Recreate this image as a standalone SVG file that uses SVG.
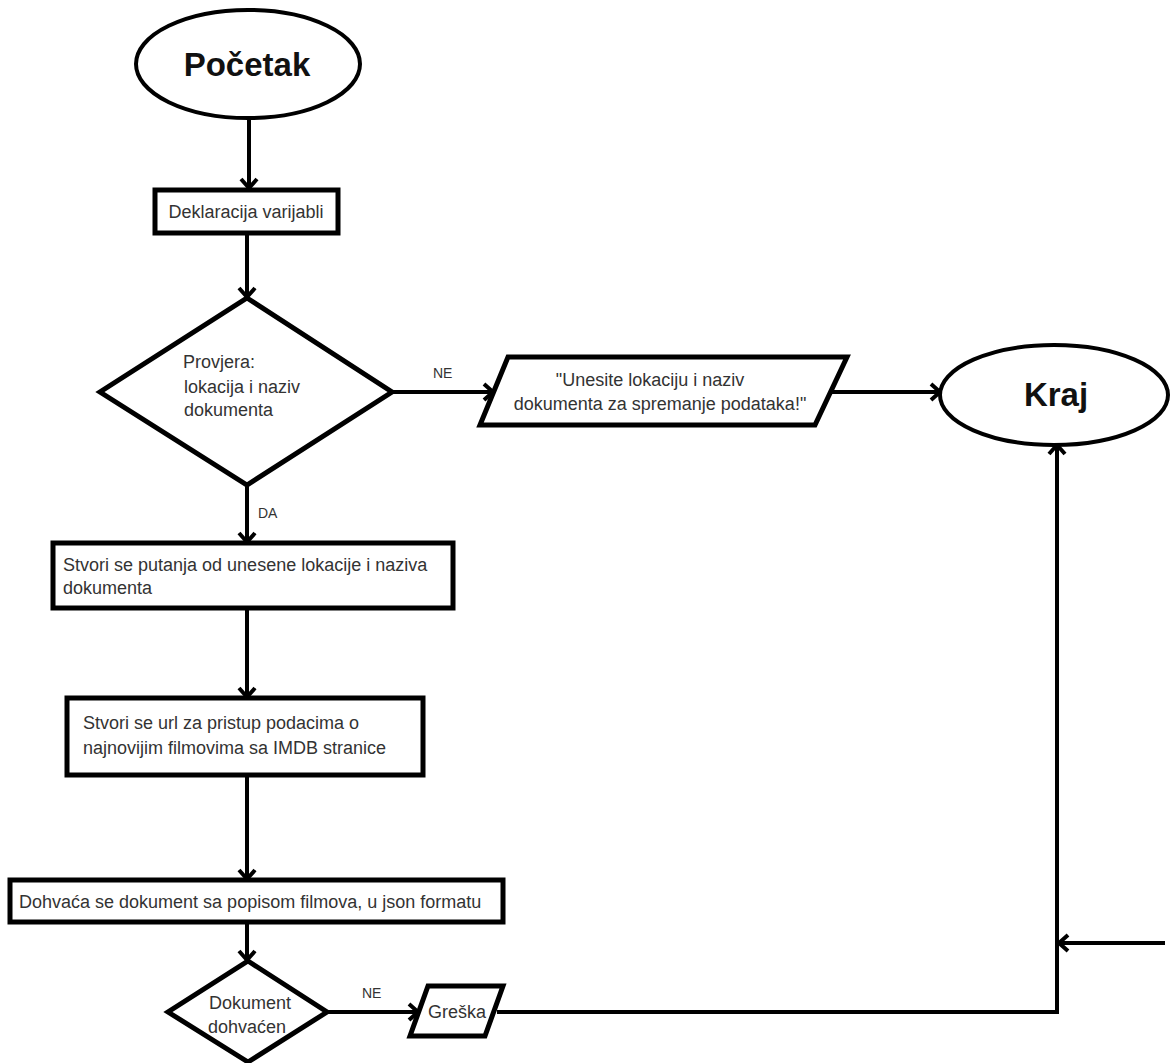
<svg xmlns="http://www.w3.org/2000/svg" width="1171" height="1063" viewBox="0 0 1171 1063">
<style>
.shape{fill:#fff;stroke:#000;stroke-width:5;stroke-linejoin:miter}
.term{fill:#fff;stroke:#000;stroke-width:4}
.conn{fill:none;stroke:#000;stroke-width:4;stroke-linejoin:miter}
.t{font-family:"Liberation Sans",Arial,sans-serif;font-size:18px;fill:#333}
.c{text-anchor:middle}
.title{font-family:"Liberation Sans",Arial,sans-serif;font-size:33px;font-weight:bold;fill:#111;text-anchor:middle}
.lbl{font-family:"Liberation Sans",Arial,sans-serif;font-size:14px;fill:#333}
</style>
<defs>
<marker id="arr" markerUnits="userSpaceOnUse" markerWidth="20" markerHeight="20" refX="0" refY="0" viewBox="-12 -10 14 20" orient="auto">
<path d="M-9,-8 L0,0 L-9,8" fill="none" stroke="#000" stroke-width="4"/>
</marker>
</defs>
<rect width="1171" height="1063" fill="#fff"/>
<g id="connectors">
<line class="conn" x1="249" y1="118" x2="249" y2="188" marker-end="url(#arr)"/>
<line class="conn" x1="247" y1="233" x2="247" y2="297" marker-end="url(#arr)"/>
<line class="conn" x1="392" y1="392" x2="493" y2="392" marker-end="url(#arr)"/>
<line class="conn" x1="832" y1="392" x2="940" y2="392" marker-end="url(#arr)"/>
<line class="conn" x1="247" y1="485" x2="247" y2="542" marker-end="url(#arr)"/>
<line class="conn" x1="247" y1="608" x2="247" y2="697" marker-end="url(#arr)"/>
<line class="conn" x1="247" y1="775" x2="247" y2="879" marker-end="url(#arr)"/>
<line class="conn" x1="247" y1="922" x2="247" y2="960" marker-end="url(#arr)"/>
<line class="conn" x1="327" y1="1012" x2="418" y2="1012" marker-end="url(#arr)"/>
<polyline class="conn" points="497,1012 1057,1012 1057,445" marker-end="url(#arr)"/>
<line class="conn" x1="1165" y1="943" x2="1059" y2="943" marker-end="url(#arr)"/>
<text class="lbl" x="433" y="378">NE</text>
<text class="lbl" x="258" y="518">DA</text>
<text class="lbl" x="362" y="998">NE</text>
</g>
<g id="pocetak">
<ellipse class="term" cx="248" cy="64" rx="112" ry="54"/>
<text class="title" x="247" y="76">Početak</text>
</g>
<g id="deklaracija">
<rect class="shape" x="155" y="190" width="183" height="43"/>
<text class="t c" x="246" y="218">Deklaracija varijabli</text>
</g>
<g id="provjera">
<polygon class="shape" points="247,298 392,392 247,485 100,392"/>
<text class="t" x="183" y="368">Provjera:</text>
<text class="t" x="184" y="393">lokacija i naziv</text>
<text class="t" x="184" y="416">dokumenta</text>
</g>
<g id="poruka">
<polygon class="shape" points="508,357 847,357 815,425 480,425"/>
<text class="t c" x="650" y="386">"Unesite lokaciju i naziv</text>
<text class="t c" x="660" y="410">dokumenta za spremanje podataka!"</text>
</g>
<g id="kraj">
<ellipse class="term" cx="1054" cy="395" rx="114" ry="50"/>
<text class="title" x="1056" y="406">Kraj</text>
</g>
<g id="putanja">
<rect class="shape" x="53" y="543" width="400" height="65"/>
<text class="t" x="63" y="571">Stvori se putanja od unesene lokacije i naziva</text>
<text class="t" x="63" y="594">dokumenta</text>
</g>
<g id="url">
<rect class="shape" x="67" y="698" width="356" height="77"/>
<text class="t" x="83" y="729">Stvori se url za pristup podacima o</text>
<text class="t" x="83" y="754">najnovijim filmovima sa IMDB stranice</text>
</g>
<g id="dohvaca">
<rect class="shape" x="10" y="880" width="493" height="42"/>
<text class="t" x="19" y="908">Dohvaća se dokument sa popisom filmova, u json formatu</text>
</g>
<g id="dohvacen">
<polygon class="shape" points="248,961 327,1012 248,1062 168,1012"/>
<text class="t c" x="250" y="1009">Dokument</text>
<text class="t c" x="247" y="1033">dohvaćen</text>
</g>
<g id="greska">
<polygon class="shape" points="428,986 503,986 485,1036 410,1036"/>
<text class="t c" x="457" y="1018">Greška</text>
</g>
</svg>
